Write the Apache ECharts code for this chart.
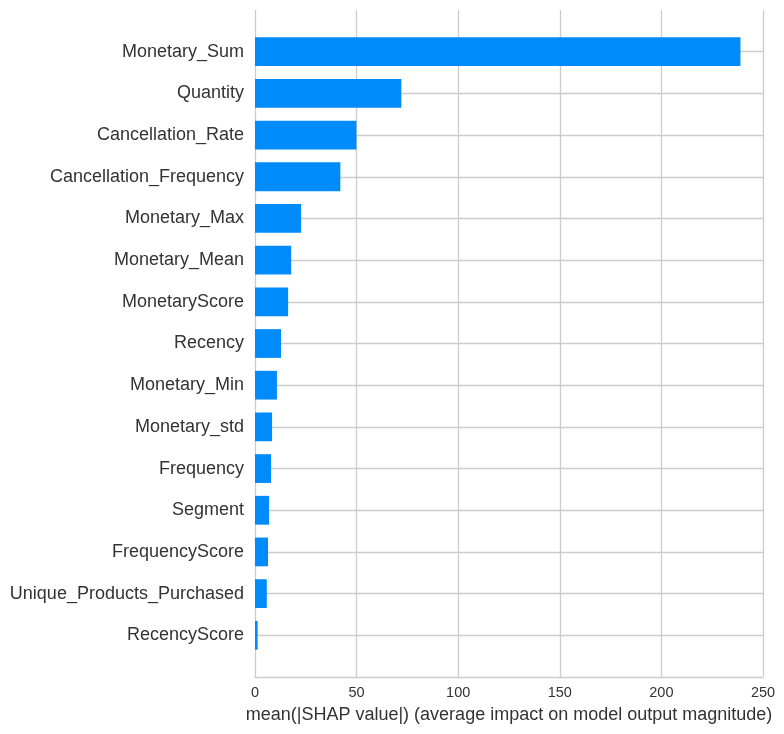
<!DOCTYPE html>
<html>
<head>
<meta charset="utf-8">
<script src="https://cdn.jsdelivr.net/npm/echarts@6/dist/echarts.min.js"></script>
<style>html,body{margin:0;padding:0;background:#fff}#c{width:784px;height:734px}</style>
</head>
<body>
<div id="c"></div>
<script>
const features = ["Monetary_Sum","Quantity","Cancellation_Rate","Cancellation_Frequency","Monetary_Max","Monetary_Mean","MonetaryScore","Recency","Monetary_Min","Monetary_std","Frequency","Segment","FrequencyScore","Unique_Products_Purchased","RecencyScore"];
const meanAbsShap = [238.9, 72.0, 49.9, 42.0, 22.7, 17.8, 16.3, 12.8, 10.8, 8.4, 7.9, 6.9, 6.4, 5.8, 1.3];
const xTicks = [0, 50, 100, 150, 200, 250];
const xAxisTitle = "mean(|SHAP value|) (average impact on model output magnitude)";

// pad one empty slot at each end so the axis spans from -1 to n
const cats = [""].concat(features, [""]);
const vals = [null].concat(meanAbsShap, [null]);

const chart = echarts.init(document.getElementById('c'));
const FONT = "'Liberation Sans', Arial, sans-serif";
chart.setOption({
  animation: false,
  backgroundColor: '#ffffff',
  grid: { left: 255, right: 21, top: 10, bottom: 57, containLabel: false },
  xAxis: {
    type: 'value',
    min: xTicks[0], max: xTicks[xTicks.length - 1], interval: xTicks[1] - xTicks[0],
    name: xAxisTitle, nameLocation: 'middle', nameGap: 29,
    nameTextStyle: { fontSize: 18, color: '#333333', fontFamily: FONT },
    axisLine: { show: true, lineStyle: { color: '#cccccc', width: 1.3 } },
    axisTick: { show: false },
    axisLabel: { fontSize: 14.5, color: '#333333', fontFamily: FONT, margin: 8 },
    splitLine: { show: true, lineStyle: { color: '#cccccc', width: 1.3 } }
  },
  yAxis: {
    type: 'category', data: cats, inverse: true, boundaryGap: false,
    axisLine: { show: false }, axisTick: { show: false },
    axisLabel: { fontSize: 18, color: '#333333', fontFamily: FONT, margin: 11 },
    splitLine: { show: true, interval: (i, v) => v !== '', lineStyle: { color: '#cccccc', width: 1.3 } }
  },
  series: [{
    type: 'bar', data: vals, barWidth: '69%',
    itemStyle: { color: '#008bfb' }
  }]
});
</script>
</body>
</html>
